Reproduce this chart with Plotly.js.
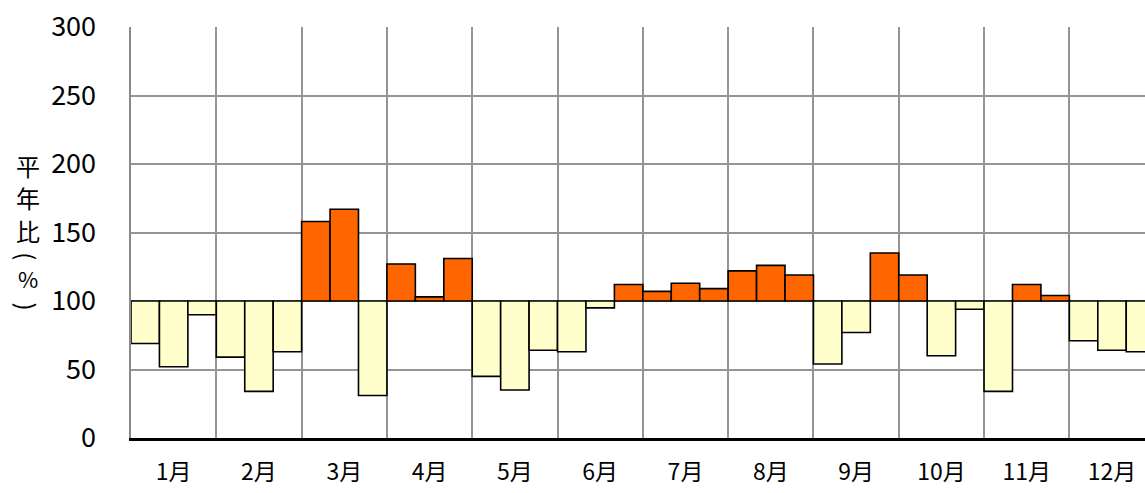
<!DOCTYPE html>
<html><head><meta charset="utf-8">
<script src="https://cdn.plot.ly/plotly-3.0.1.min.js"></script>
<style>html,body{margin:0;padding:0;background:#fff;overflow:hidden}</style>
</head><body>
<div id="chart" style="width:1145px;height:493px"></div>
<script>
// Month labels (each month has 3 dekads: 上旬・中旬・下旬)
const months = ["1月","2月","3月","4月","5月","6月","7月","8月","9月","10月","11月","12月"];
// 平年比(%) for each dekad, Jan上旬 .. Dec下旬
const ratioValues = [
  69, 52, 90,    // 1月
  59, 34, 63,    // 2月
  158, 167, 31,  // 3月
  127, 103, 131, // 4月
  45, 35, 64,    // 5月
  63, 95, 112,   // 6月
  107, 113, 109, // 7月
  122, 126, 119, // 8月
  54, 77, 135,   // 9月
  119, 60, 94,   // 10月
  34, 112, 104,  // 11月
  71, 64, 63     // 12月
];
const baseline = 100;
const yTickVals = [0, 50, 100, 150, 200, 250, 300];
// vertical y-axis title "平年比(%)", one character per line; parentheses turned sideways
const yTitleChars = ["平", "年", "比", "(", "%", ")"];
const yTitleCharY = [0.664, 0.584, 0.504, 0.443, 0.389, 0.321]; // paper fractions (layout)
const yTitleCharSize = [24, 24, 24, 24, 22, 24];
const yTitleCharAngle = [0, 0, 0, 90, 0, 90];

const colAbove = "#FF6600";
const colBelow = "#FFFFCC";
const gridCol = "#949494";
const font = "'Noto Sans CJK JP', 'Noto Sans', sans-serif";

const xIdx = ratioValues.map((v, i) => i);
const trace = {
  type: "bar",
  x: xIdx,
  y: ratioValues.map(v => v - baseline),
  base: ratioValues.map(() => baseline),
  marker: {
    color: ratioValues.map(v => v >= baseline ? colAbove : colBelow),
    line: {color: "#000", width: 1.6}
  },
  hoverinfo: "skip",
  showlegend: false
};

const monthCenters = months.map((m, i) => i * 3 + 1);
const monthBounds = months.map((m, i) => i * 3 - 0.5);

const layout = {
  width: 1145, height: 493,
  margin: {l: 131, r: 0, t: 27, b: 55},
  paper_bgcolor: "#fff", plot_bgcolor: "#fff",
  bargap: 0,
  font: {family: font, color: "#000", size: 24},
  xaxis: {
    range: [-0.5, 35.16],
    tickmode: "array",
    tickvals: monthCenters,
    ticktext: months,
    ticks: "",
    showgrid: false,
    zeroline: false,
    showline: true,
    linecolor: "#000",
    linewidth: 3,
    ticklabelstandoff: 11,
    tickfont: {family: font, size: 23, color: "#000"},
    minor: {tickmode: "array", tickvals: monthBounds, showgrid: true, gridcolor: gridCol, gridwidth: 2, ticks: ""},
    fixedrange: true
  },
  yaxis: {
    range: [0, 300],
    tickmode: "array",
    tickvals: yTickVals,
    ticks: "",
    showgrid: true,
    gridcolor: gridCol,
    gridwidth: 2,
    zeroline: false,
    showline: true,
    linecolor: "#8a8a8a",
    linewidth: 2.5,
    ticklabelstandoff: 27,
    tickfont: {family: font, size: 27, color: "#000"},
    fixedrange: true
  },
  annotations: yTitleChars.map((c, i) => ({
    xref: "paper", yref: "paper",
    x: -0.102, y: yTitleCharY[i],
    xanchor: "center", yanchor: "middle",
    text: c,
    textangle: yTitleCharAngle[i],
    borderpad: 0,
    showarrow: false,
    font: {family: font, size: yTitleCharSize[i], color: "#000"}
  }))
};

Plotly.newPlot("chart", [trace], layout, {displayModeBar: false, staticPlot: true});
</script>
</body></html>
